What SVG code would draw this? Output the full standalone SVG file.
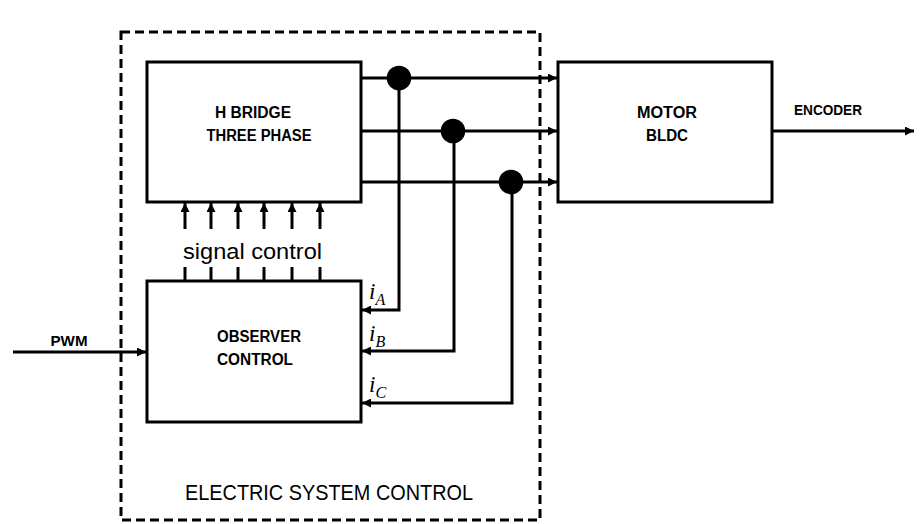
<svg xmlns="http://www.w3.org/2000/svg" width="922" height="524" viewBox="0 0 922 524">
<style>
.box{fill:#fff;stroke:#000;stroke-width:3}
.ln{fill:none;stroke:#000;stroke-width:3}
.arr{marker-end:url(#ah)}
.lbl{font-family:"Liberation Sans",Arial,sans-serif;font-weight:bold;font-size:16px;fill:#000;text-anchor:middle}
.sm{font-size:14px}
.reg{font-family:"Liberation Sans",Arial,sans-serif;font-size:22px;fill:#000}
.mi{font-family:"Liberation Serif","Times New Roman",serif;font-style:italic;fill:#000}
</style>
<defs>
<marker id="ah" viewBox="0 0 10 10" refX="10" refY="5" markerWidth="3.4" markerHeight="3" orient="auto" markerUnits="strokeWidth">
<path d="M0,0 L10,5 L0,10 Z" fill="#000"/>
</marker>
</defs>
<g id="esc">
<rect x="121" y="32" width="419" height="488" fill="none" stroke="#000" stroke-width="3" stroke-dasharray="9 5"/>
<text class="reg" x="185" y="500" textLength="288" lengthAdjust="spacingAndGlyphs">ELECTRIC SYSTEM CONTROL</text>
</g>
<g id="hbridge">
<rect class="box" x="147" y="62" width="214" height="140"/>
<text class="lbl" x="253" y="118" textLength="76" lengthAdjust="spacingAndGlyphs">H BRIDGE</text>
<text class="lbl" x="259" y="141" textLength="105" lengthAdjust="spacingAndGlyphs">THREE PHASE</text>
</g>
<g id="observer">
<rect class="box" x="147" y="281" width="214" height="141"/>
<text class="lbl" x="259" y="342" textLength="84" lengthAdjust="spacingAndGlyphs">OBSERVER</text>
<text class="lbl" x="255" y="365" textLength="76" lengthAdjust="spacingAndGlyphs">CONTROL</text>
</g>
<g id="motor">
<rect class="box" x="558" y="62" width="214" height="140"/>
<text class="lbl" x="667" y="118" textLength="60" lengthAdjust="spacingAndGlyphs">MOTOR</text>
<text class="lbl" x="667" y="141" textLength="42" lengthAdjust="spacingAndGlyphs">BLDC</text>
</g>
<g id="connectors">
<line class="ln arr" x1="361" y1="78" x2="557" y2="78"/>
<line class="ln arr" x1="361" y1="131" x2="557" y2="131"/>
<line class="ln arr" x1="361" y1="182" x2="557" y2="182"/>
<circle cx="399" cy="78" r="12.3" fill="#000"/>
<circle cx="453" cy="131" r="12.3" fill="#000"/>
<circle cx="511" cy="182" r="12.3" fill="#000"/>
<polyline class="ln arr" points="399,78 399,310 362,310"/>
<polyline class="ln arr" points="454,131 454,351 362,351"/>
<polyline class="ln arr" points="512,182 512,403 362,403"/>
<line class="ln arr" x1="772" y1="131" x2="914" y2="131"/>
<line class="ln arr" x1="13" y1="352" x2="146" y2="352"/>
<g id="signals">
<line class="ln arr" x1="185" y1="229" x2="185" y2="203"/>
<line class="ln arr" x1="211" y1="229" x2="211" y2="203"/>
<line class="ln arr" x1="238" y1="229" x2="238" y2="203"/>
<line class="ln arr" x1="264" y1="229" x2="264" y2="203"/>
<line class="ln arr" x1="292" y1="229" x2="292" y2="203"/>
<line class="ln arr" x1="320" y1="229" x2="320" y2="203"/>
<line class="ln" x1="185" y1="267" x2="185" y2="281"/>
<line class="ln" x1="211" y1="267" x2="211" y2="281"/>
<line class="ln" x1="238" y1="267" x2="238" y2="281"/>
<line class="ln" x1="264" y1="267" x2="264" y2="281"/>
<line class="ln" x1="292" y1="267" x2="292" y2="281"/>
<line class="ln" x1="320" y1="267" x2="320" y2="281"/>
</g>
</g>
<g id="labels">
<text class="reg" x="183" y="259" textLength="139" lengthAdjust="spacingAndGlyphs">signal control</text>
<text class="lbl sm" x="828" y="115" textLength="68" lengthAdjust="spacingAndGlyphs">ENCODER</text>
<text class="lbl sm" x="69" y="346" textLength="37" lengthAdjust="spacingAndGlyphs">PWM</text>
<text class="mi" x="369" y="299" font-size="23">i<tspan font-size="16" dy="6">A</tspan></text>
<text class="mi" x="369" y="341" font-size="23">i<tspan font-size="16" dy="6">B</tspan></text>
<text class="mi" x="369" y="392" font-size="23">i<tspan font-size="16" dy="6">C</tspan></text>
</g>
</svg>
